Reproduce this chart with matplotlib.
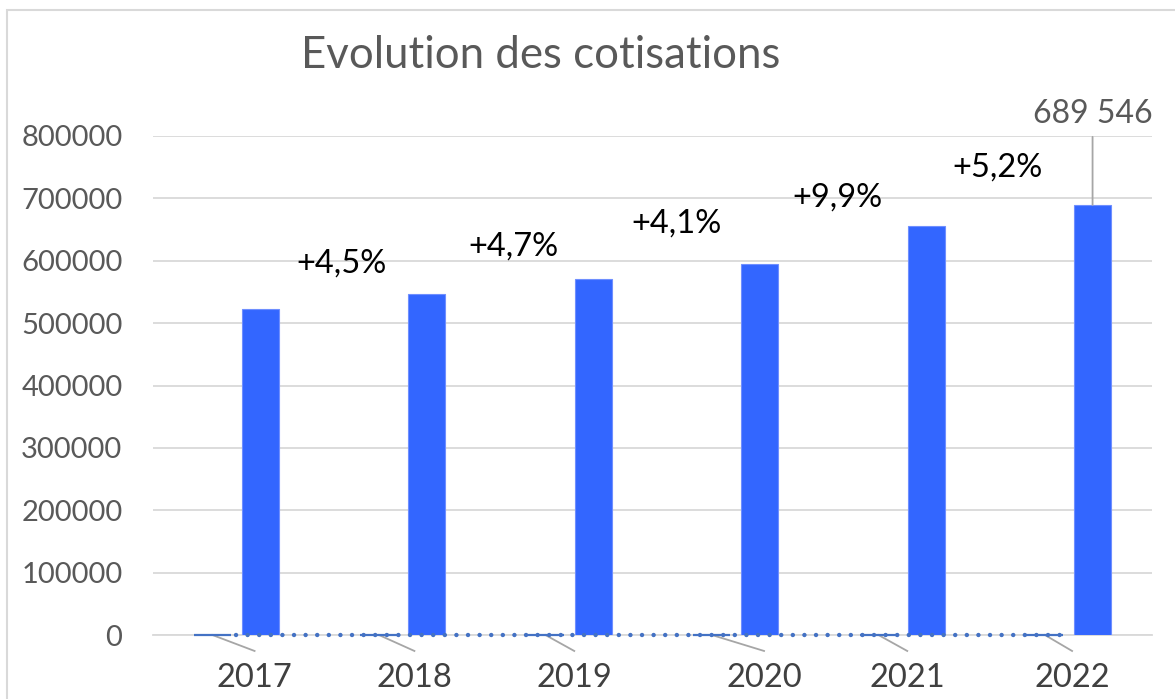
# Evolution des cotisations - histogramme style Excel

import numpy as np
import matplotlib.pyplot as plt
from matplotlib import transforms
from matplotlib.patches import Rectangle

# ================================================================================================
# Données
annees = ['2017', '2018', '2019', '2020', '2021', '2022']
cotisations = [522000, 546000, 571000, 595000, 655000, 689546]
serie_nulle = [0, 0, 0, 0, 0, 0]
evolutions = ['', '+4,5%', '+4,7%', '+4,1%', '+9,9%', '+5,2%']

# ================================================================================================
# Mise en page (positions des étiquettes, en unités de catégorie / de valeur)
decalage_barre = 0.143
largeur_barre = 0.222
etiquette_annee_dx = [0.11, 0.07, 0.03, 0.17, 0.03, 0.02]
etiquette_pct_dx = [0, -0.365, -0.338, -0.353, -0.392, -0.425]
etiquette_pct_y = [0, 596000, 622000, 659000, 700600, 748700]

gris_texte = '#595959'
gris_grille = '#D9D9D9'
bleu_barre = '#3366FF'
bleu_ligne = '#4472C4'

plt.rcParams['font.family'] = ['Lato', 'DejaVu Sans']

fig = plt.figure(figsize=(11.75, 6.99), dpi=100)
fig.patches.append(Rectangle((7 / 1175, -0.1), 1.2, 1 - 10 / 699 + 0.1, transform=fig.transFigure,
                             fill=False, edgecolor=gris_grille, linewidth=1.5))

ax = fig.add_axes([153 / 1175, 1 - 635 / 699, 999 / 1175, 499 / 699])
x = np.arange(len(annees))

# Barres principales
ax.bar(x + decalage_barre, cotisations, width=largeur_barre, color=bleu_barre,
       edgecolor='#6F8FFF', linewidth=0.8, zorder=3)

# Série quasi nulle (barres plates + ligne pointillée)
ax.hlines(serie_nulle, x - decalage_barre - largeur_barre / 2, x - decalage_barre + largeur_barre / 2,
          color=bleu_ligne, linewidth=1.6, zorder=4, clip_on=False)
ax.plot(x, serie_nulle, color=bleu_ligne, linestyle=(0, (0.01, 2.6)), linewidth=3.2,
        dash_capstyle='round', zorder=4, clip_on=False)

# Étiquettes des années avec traits de rappel
trans = transforms.blended_transform_factory(ax.transData, ax.transAxes)
for i, annee in enumerate(annees):
    xe = i + etiquette_annee_dx[i]
    ax.plot([i - decalage_barre, xe], [0, -0.032], color='#A6A6A6', linewidth=1.3,
            transform=trans, clip_on=False, zorder=2)
    ax.text(xe, -0.087, annee, transform=trans, ha='center', va='center',
            fontsize=23.5, color='#404040')

# Étiquettes d'évolution
for i, texte in enumerate(evolutions):
    if texte:
        ax.text(i + etiquette_pct_dx[i], etiquette_pct_y[i], texte, ha='center', va='center',
                fontsize=23.5, color='black', zorder=5)

# Étiquette de la dernière valeur
dernier = len(annees) - 1
ax.annotate('689 546', xy=(dernier + decalage_barre, cotisations[dernier]),
            xytext=(dernier + decalage_barre, 812000), ha='center', va='bottom',
            fontsize=23, color=gris_texte, annotation_clip=False,
            arrowprops=dict(arrowstyle='-', color='#A6A6A6', linewidth=1.3, shrinkA=4, shrinkB=0))

# Axes
ax.set_xlim(-0.5, 5.5)
ax.set_ylim(0, 800000)
ax.set_yticks(np.arange(0, 800001, 100000))
ax.set_yticklabels([str(v) for v in range(0, 800001, 100000)])
ax.set_xticks([])
ax.tick_params(axis='y', length=0, pad=22, labelsize=21, labelcolor=gris_texte)
ax.grid(axis='y', color=gris_grille, linewidth=1.3, zorder=0)
ax.set_axisbelow(True)
for cote in ['top', 'right', 'left']:
    ax.spines[cote].set_visible(False)
ax.spines['bottom'].set_color(gris_grille)
ax.spines['bottom'].set_linewidth(1.3)

fig.text(541 / 1175, 1 - 55 / 699, 'Evolution des cotisations', ha='center', va='center',
         fontsize=31.5, color=gris_texte)

fig.savefig('out.png', dpi=100)
